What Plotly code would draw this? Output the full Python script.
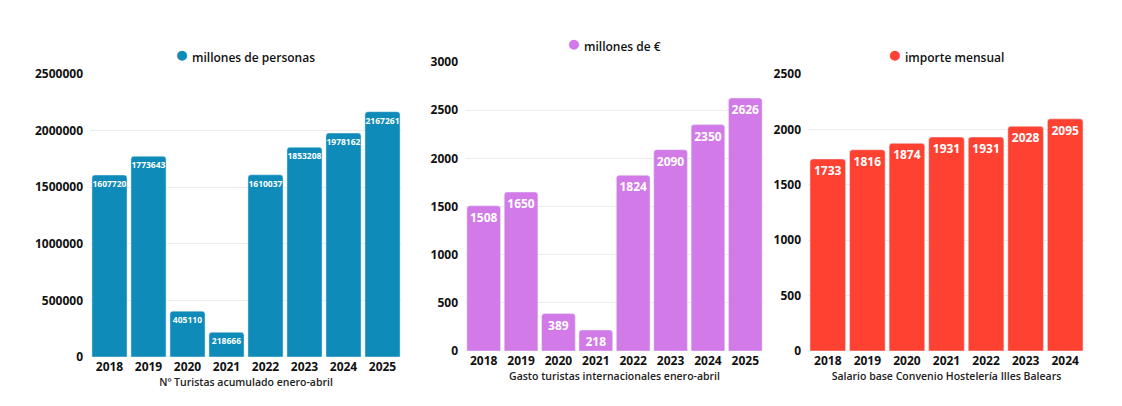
import plotly.graph_objects as go

W, H = 1122, 406
OFF = 8  # margen del body de la página

# datos
years_tur = ["2018", "2019", "2020", "2021", "2022", "2023", "2024", "2025"]
turistas = [1607720, 1773643, 405110, 218666, 1610037, 1853208, 1978162, 2167261]

years_gasto = ["2018", "2019", "2020", "2021", "2022", "2023", "2024", "2025"]
gasto = [1508, 1650, 389, 218, 1824, 2090, 2350, 2626]

years_sal = ["2018", "2019", "2020", "2021", "2022", "2023", "2024"]
salario = [1733, 1816, 1874, 1931, 1931, 2028, 2095]

BLUE = "#0e8bb8"
PURPLE = "#d27ae8"
RED = "#ff4131"
FONT = "Open Sans"


def px_x(a, b):
    return [(a - OFF) / W, (b - OFF) / W]


def px_y(top, bottom):
    return [1 - (bottom - OFF) / H, 1 - (top - OFF) / H]


fig = go.Figure()

panels = [
    (years_tur, turistas, BLUE, "millones de personas", "x", "y", 8.5, 245, 53),
    (years_gasto, gasto, PURPLE, "millones de €", "x2", "y2", 12, 614, 42),
    (years_sal, salario, RED, "importe mensual", "x3", "y3", 12, 946, 53),
]

for cats, vals, col, name, xa, ya, tsize, lx, ly in panels:
    fig.add_trace(go.Bar(
        x=cats, y=vals, name=name, marker_color=col, xaxis=xa, yaxis=ya,
        texttemplate="%{y:d}", textposition="inside", insidetextanchor="end",
        textfont=dict(family=FONT, size=tsize, color="white", weight="bold"),
        textangle=0, constraintext="none", showlegend=False))
    # leyenda con círculo
    fig.add_annotation(
        x=(lx - OFF) / W, y=1 - (ly - OFF) / H, xref="paper", yref="paper",
        showarrow=False, xanchor="center", yanchor="middle",
        text=f"<span style='color:{col};font-size:23px'>●</span> {name}",
        font=dict(family=FONT, size=12, color="#111111", weight=600))

tick_font = dict(family=FONT, size=12, color="#111111", weight="bold")
title_font = dict(family=FONT, size=10.5, color="#222222", weight=600)


def xaxis(dom, title):
    return dict(domain=dom, tickfont=tick_font, showgrid=False, showline=False,
                ticks="", ticklabelstandoff=1, automargin=False,
                title=dict(text=title, font=title_font, standoff=4))


def yaxis(dom, rng, dtick):
    return dict(domain=dom, range=rng, dtick=dtick, tickformat="d",
                tickfont=tick_font, gridcolor="#ececec", gridwidth=1,
                zeroline=False, showline=False, ticklabelstandoff=6,
                automargin=False)


fig.update_layout(
    width=W, height=H,
    margin=dict(l=0, r=0, t=0, b=0, autoexpand=False),
    paper_bgcolor="white", plot_bgcolor="white",
    bargap=0.1, barcornerradius=3,
    font=dict(family=FONT),
    showlegend=False,
    xaxis=xaxis(px_x(90, 402), "Nº Turistas acumulado enero-abril"),
    yaxis=yaxis(px_y(74, 357), [0, 2500000], 500000),
    xaxis2=dict(xaxis(px_x(465, 764), "Gasto turistas internacionales enero-abril"), anchor="y2"),
    yaxis2=dict(yaxis(px_y(62, 351), [0, 3000], 500), anchor="x2"),
    xaxis3=dict(xaxis(px_x(808, 1085), "Salario base Convenio Hostelería Illes Balears"), anchor="y3"),
    yaxis3=dict(yaxis(px_y(74, 351), [0, 2500], 500), anchor="x3"),
)

fig.write_html("out.html")
